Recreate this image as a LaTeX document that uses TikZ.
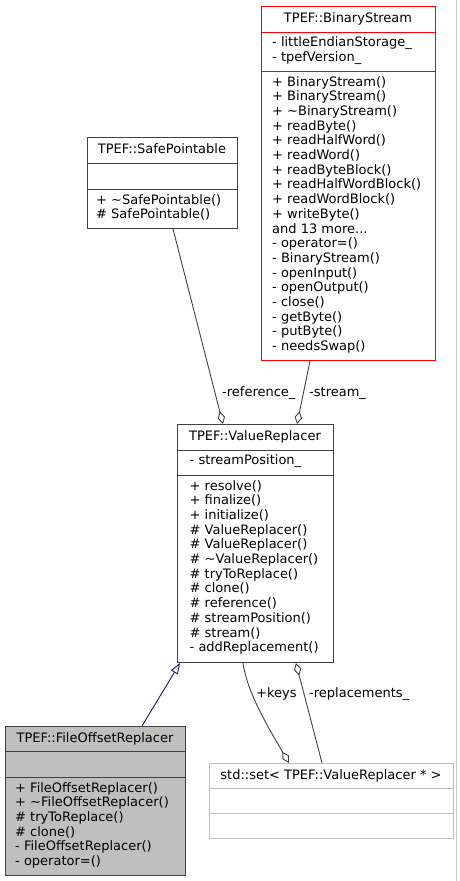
\documentclass[tikz,border=0pt]{standalone}
\usepackage{fontspec}
\setmainfont{DejaVu Sans}
\usetikzlibrary{arrows.meta}
\usetikzlibrary{calc}

\definecolor{grey25}{RGB}{64,64,64}
\definecolor{grey75}{RGB}{191,191,191}
\definecolor{navyline}{RGB}{25,25,112}
\definecolor{framegray}{RGB}{200,200,200}

\newcommand{\umlfont}{\fontsize{13}{14.7}\selectfont}

\begin{document}
\begin{tikzpicture}[x=1pt,y=-1pt,
  classbox/.style={draw=grey25, line width=1pt, fill=white, inner sep=0pt, anchor=north west},
  classname/.style={anchor=base, inner sep=0pt, font=\umlfont},
  members/.style={anchor=base west, inner sep=0pt, align=left, font=\umlfont},
  edgelabel/.style={anchor=base west, inner sep=0pt, font=\umlfont},
  aggregation/.style={draw=grey25, line width=0.9pt, -{Diamond[open, length=13pt, width=7.5pt]}},
  inheritance/.style={draw=navyline, line width=0.9pt, -{Triangle[open, length=11pt, width=8pt]}},
]
\useasboundingbox (0,0) rectangle (459,881);
%member nodes are placed at the baseline of their last line

%Straight Lines: frame edge
\draw [framegray, line width=1pt] (456.5,0) -- (456.5,881);

%Shape: BinaryStream
\node (bs) [classbox, draw=red, minimum width=174pt, minimum height=354pt] at (261,6) {};
\draw [red, line width=1pt] (bs.west |- 0,32) -- (bs.east |- 0,32);
\draw [red, line width=1pt] (bs.west |- 0,71) -- (bs.east |- 0,71);
% Text Node
\node (bs-name) [classname] at (348,22.5) {TPEF::BinaryStream};
\node (bs-attr) [members] at (272,61.4) {- littleEndianStorage\_\\- tpefVersion\_};
\node (bs-ops) [members] at (272,350.6) {+ BinaryStream()\\+ BinaryStream()\\+ \textasciitilde BinaryStream()\\+ readByte()\\+ readHalfWord()\\+ readWord()\\+ readByteBlock()\\+ readHalfWordBlock()\\+ readWordBlock()\\+ writeByte()\\and 13 more...\\- operator=()\\- BinaryStream()\\- openInput()\\- openOutput()\\- close()\\- getByte()\\- putByte()\\- needsSwap()};

%Shape: SafePointable
\node (sp) [classbox, minimum width=150pt, minimum height=91pt] at (87,137) {};
\draw [grey25, line width=1pt] (sp.west |- 0,163) -- (sp.east |- 0,163);
\draw [grey25, line width=1pt] (sp.west |- 0,189) -- (sp.east |- 0,189);
% Text Node
\node (sp-name) [classname] at (162,153.5) {TPEF::SafePointable};
\node (sp-ops) [members] at (96,218.7) {+ \textasciitilde SafePointable()\\\# SafePointable()};

%Shape: ValueReplacer
\node (vr) [classbox, minimum width=156pt, minimum height=238pt] at (177,424) {};
\draw [grey25, line width=1pt] (vr.west |- 0,450) -- (vr.east |- 0,450);
\draw [grey25, line width=1pt] (vr.west |- 0,475) -- (vr.east |- 0,475);
% Text Node
\node (vr-name) [classname] at (255,440.5) {TPEF::ValueReplacer};
\node (vr-attr) [members] at (189.5,464.7) {- streamPosition\_};
\node (vr-ops) [members] at (189.5,651.7) {+ resolve()\\+ finalize()\\+ initialize()\\\# ValueReplacer()\\\# ValueReplacer()\\\# \textasciitilde ValueReplacer()\\\# tryToReplace()\\\# clone()\\\# reference()\\\# streamPosition()\\\# stream()\\- addReplacement()};

%Shape: FileOffsetReplacer
\node (fo) [classbox, fill=grey75, minimum width=180pt, minimum height=149pt] at (5,726) {};
\draw [grey25, line width=1pt] (fo.west |- 0,751.5) -- (fo.east |- 0,751.5);
\draw [grey25, line width=1pt] (fo.west |- 0,777) -- (fo.east |- 0,777);
% Text Node
\node (fo-name) [classname] at (95,742.5) {TPEF::FileOffsetReplacer};
\node (fo-ops) [members] at (15,865.5) {+ FileOffsetReplacer()\\+ \textasciitilde FileOffsetReplacer()\\\# tryToReplace()\\\# clone()\\- FileOffsetReplacer()\\- operator=()};

%Shape: std::set
\node (set) [classbox, draw=grey75, minimum width=244pt, minimum height=75pt] at (209,763) {};
\draw [grey75, line width=1pt] (set.west |- 0,788) -- (set.east |- 0,788);
\draw [grey75, line width=1pt] (set.west |- 0,813) -- (set.east |- 0,813);
% Text Node
\node (set-name) [classname] at (331,779.5) {std::set< TPEF::ValueReplacer * >};

%Straight Lines: aggregations
\draw [aggregation] ($(sp.south west)+(86,0)$) -- ($(vr.north west)+(46,0)$);
\draw [aggregation] ($(bs.south west)+(49,0)$) -- ($(vr.north west)+(120,0)$);
\draw [aggregation] ($(vr.south west)+(66,0)$) .. controls ($(vr.south west)+(70,28)$) and ($(set.north west)+(56,-41)$) .. ($(set.north west)+(80,0)$);
\draw [aggregation] ($(set.north west)+(113,0)$) -- ($(vr.south west)+(119,0)$);
%Straight Lines: inheritance
\draw [inheritance] ($(fo.north west)+(137,0)$) -- ($(vr.south west)+(3,0)$);

% Text Node
\node (lbl-ref) [edgelabel] at (222,396.5) {-reference\_};
\node (lbl-stream) [edgelabel] at (309,396.5) {-stream\_};
\node (lbl-keys) [edgelabel] at (256,697.5) {+keys};
\node (lbl-repl) [edgelabel] at (309,697.5) {-replacements\_};

\end{tikzpicture}
\end{document}
